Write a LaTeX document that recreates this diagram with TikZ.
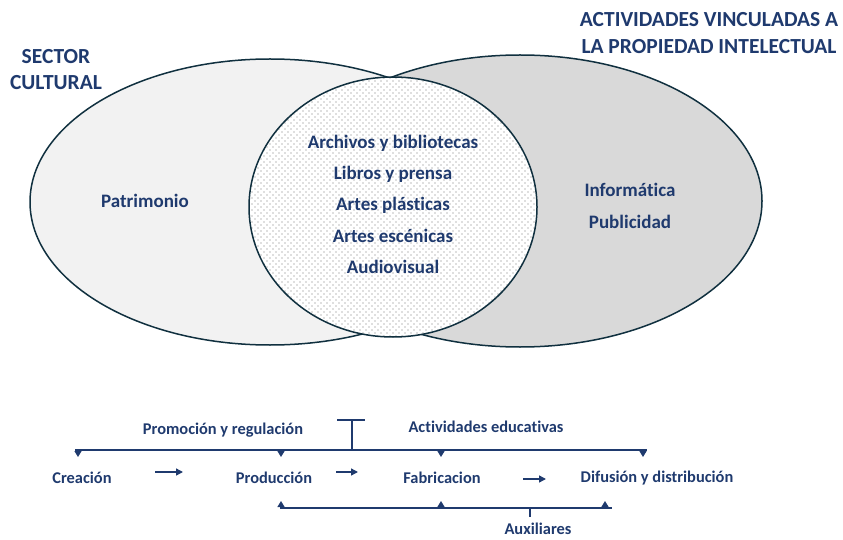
\documentclass[tikz,border=0pt]{standalone}
\usepackage{fontspec}
\setmainfont[Ligatures=NoCommon]{Carlito}
\usetikzlibrary{arrows.meta,patterns}
\definecolor{txtblue}{HTML}{1F3A6E}
\definecolor{edge}{HTML}{10303F}
\definecolor{lightfill}{HTML}{F2F2F2}
\definecolor{darkfill}{HTML}{D9D9D9}
\definecolor{dotgray}{HTML}{B4B4B4}
\pgfdeclarepatternformonly{sparse dots}{\pgfqpoint{-1pt}{-1pt}}{\pgfqpoint{5pt}{5pt}}{\pgfqpoint{6pt}{6pt}}{
	\pgfpathrectangle{\pgfqpoint{-0.65pt}{-0.65pt}}{\pgfqpoint{1.3pt}{1.3pt}}
	\pgfpathrectangle{\pgfqpoint{2.35pt}{2.35pt}}{\pgfqpoint{1.3pt}{1.3pt}}
	\pgfusepath{fill}}
\tikzstyle{head} = [align=center,text=txtblue,font=\bfseries\fontsize{21.5}{26}\selectfont]
\tikzstyle{txt} = [align=center,text=txtblue,font=\bfseries\fontsize{19}{22}\selectfont]
\tikzstyle{stage} = [align=center,text=txtblue,font=\bfseries\fontsize{16.4}{19}\selectfont]
\tikzstyle{blob} = [draw=edge,line width=1.5pt]
\tikzstyle{bus} = [draw=txtblue,line width=1.2pt]
\tikzstyle{tip} = [draw=txtblue,line width=1.2pt,-{Triangle[width=7pt,length=6pt]}]
\tikzstyle{flow} = [draw=txtblue,line width=1.4pt,-{Triangle[width=7pt,length=7pt]}]

\begin{document}
\begin{tikzpicture}[x=1pt,y=-1pt,node distance=31pt]
				\useasboundingbox (0,0) rectangle (843,540);
				% sets
				\draw [blob,fill=lightfill] (270,202) ellipse [x radius=240pt, y radius=143pt];
				\draw [blob,fill=darkfill] (520,201) ellipse [x radius=242pt, y radius=146pt];
				\draw [blob,preaction={fill=white},pattern=sparse dots,pattern color=dotgray] (393,207) ellipse [x radius=144pt, y radius=130pt];
				\node (sec) [head] at (56,70) {SECTOR\\CULTURAL};
				\node (pi) [head,font=\bfseries\fontsize{21.5}{27}\selectfont] at (709,33) {ACTIVIDADES VINCULADAS A\\LA PROPIEDAD INTELECTUAL};
				\node (pat) [txt] at (145,201) {Patrimonio};
				\node (arch) [txt] at (393,143) {Archivos y bibliotecas};
				\node (lib) [txt,below of=arch] {Libros y prensa};
				\node (pla) [txt,below of=lib] {Artes plásticas};
				\node (esc) [txt,below of=pla] {Artes escénicas};
				\node (aud) [txt,below of=esc] {Audiovisual};
				\node (inf) [txt] at (630,190) {Informática};
				\node (pub) [txt] at (630,222) {Publicidad};
				% chain
				\node (crea) [stage] at (82,478) {Creación};
				\node (prod) [stage] at (274,478) {Producción};
				\node (fabr) [stage] at (442,478) {Fabricacion};
				\node (difu) [stage] at (657,478) {Difusión y distribución};
				\node (prom) [stage] at (223,430) {Promoción y regulación};
				\node (edu) [stage] at (486,427) {Actividades educativas};
				\node (aux) [stage] at (538,529) {Auxiliares};
				\coordinate (top1) at (75,450);
				\coordinate (top2) at (647,450);
				\coordinate (stem1) at (352,450);
				\coordinate (stem2) at (352,420);
				\coordinate (bot1) at (280,508);
				\coordinate (bot2) at (612,508);
				\coordinate (stem3) at (530,508);
				\coordinate (stem4) at (530,517);
				\draw [bus] (top1) -- (top2);
				\draw [bus] (stem1) -- (stem2);
				\draw [bus] ([xshift=-15pt]stem2) -- ([xshift=13pt]stem2);
				\draw [bus] (bot1) -- (bot2);
				\draw [bus] (stem3) -- (stem4);
				\foreach \x in {78,281,441,643}
					\draw [tip] (\x,450) -- (\x,457);
				\foreach \x in {281,441,605}
					\draw [tip] (\x,508) -- (\x,501);
				\coordinate (a1) at (155,472);
				\coordinate (b1) at (183,472);
				\coordinate (a2) at (336,472);
				\coordinate (b2) at (358,472);
				\coordinate (a3) at (523,479);
				\coordinate (b3) at (546,479);
				\draw [flow] (a1) -- (b1);
				\draw [flow] (a2) -- (b2);
				\draw [flow] (a3) -- (b3);
			\end{tikzpicture}
\end{document}
